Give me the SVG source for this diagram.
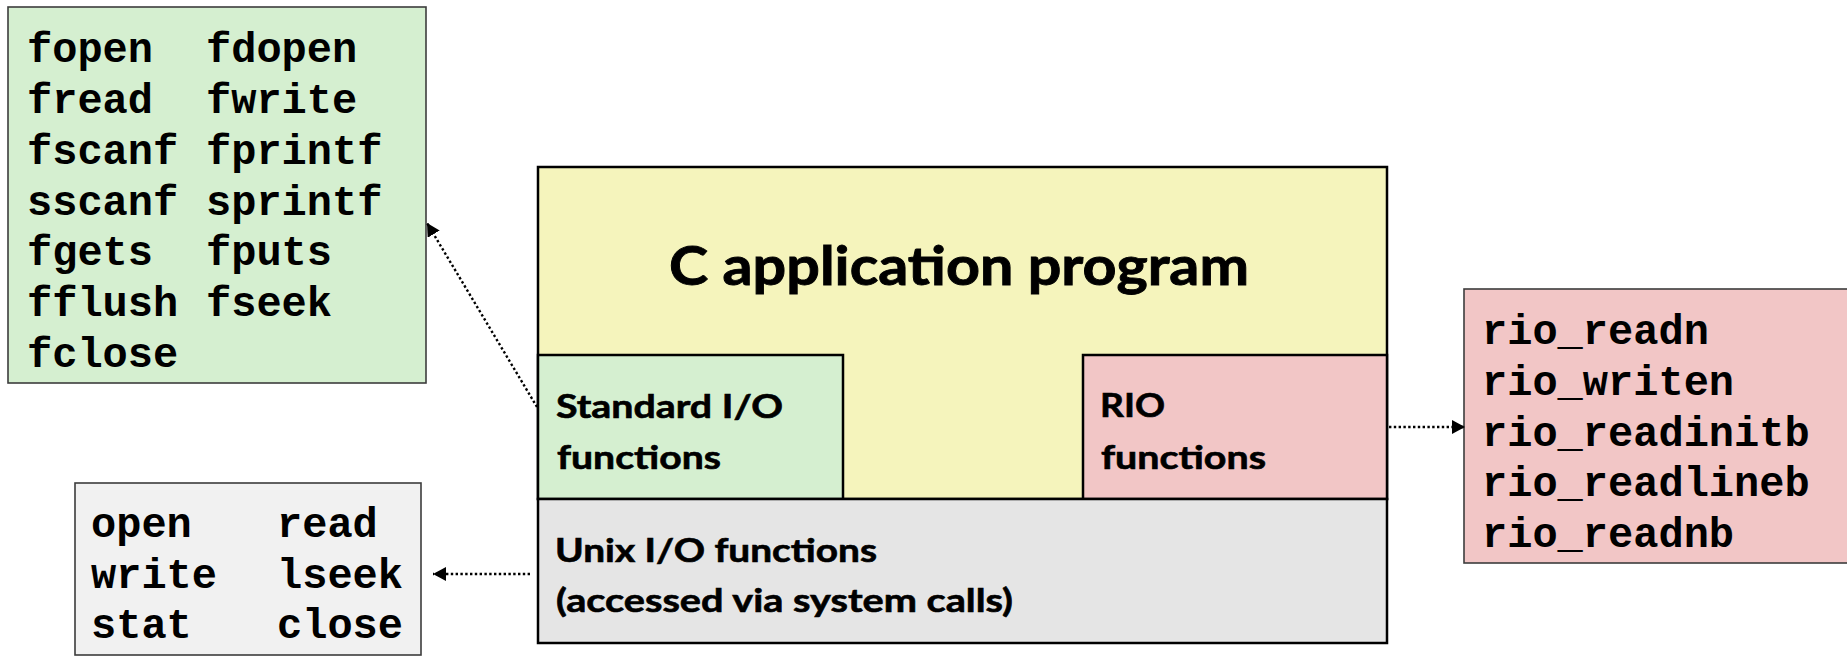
<svg xmlns="http://www.w3.org/2000/svg" width="1847" height="656" viewBox="0 0 1847 656">
  <style>
    .mono { font-family: "Courier New", "Liberation Mono", monospace; font-weight: bold; font-size: 42px; fill: #000; }
    .sans { font-family: Lato, "Open Sans", "Liberation Sans", sans-serif; font-weight: bold; fill: #000; stroke: #000; stroke-width: 0.6; }
    .big { font-size: 53px; stroke-width: 0.9; }
    .mid { font-size: 32px; }
    .outer { stroke: #3c3c3c; stroke-width: 1.6; }
    .inner { stroke: #000; stroke-width: 2.5; }
    .conn { fill: none; stroke: #000; stroke-width: 2.4; stroke-dasharray: 2.4 2.4; marker-end: url(#arrow); }
  </style>
  <defs>
    <marker id="arrow" markerUnits="userSpaceOnUse" markerWidth="14" markerHeight="14" refX="13" refY="7" orient="auto">
      <path d="M0,0 L13,7 L0,14 Z" fill="#000"/>
    </marker>
  </defs>
  <rect x="0" y="0" width="1847" height="656" fill="#fff"/>

  <g id="stdio-list">
    <rect class="outer" x="8" y="7" width="418" height="376" fill="#d5efd0"/>
    <text class="mono" x="27" y="62">fopen</text>
    <text class="mono" x="206" y="62">fdopen</text>
    <text class="mono" x="27" y="113">fread</text>
    <text class="mono" x="206" y="113">fwrite</text>
    <text class="mono" x="27" y="164">fscanf</text>
    <text class="mono" x="206" y="164">fprintf</text>
    <text class="mono" x="27" y="215">sscanf</text>
    <text class="mono" x="206" y="215">sprintf</text>
    <text class="mono" x="27" y="265">fgets</text>
    <text class="mono" x="206" y="265">fputs</text>
    <text class="mono" x="27" y="316">fflush</text>
    <text class="mono" x="206" y="316">fseek</text>
    <text class="mono" x="27" y="367">fclose</text>
  </g>

  <g id="unix-list">
    <rect class="outer" x="75" y="483" width="346" height="172" fill="#f1f1f1"/>
    <text class="mono" x="91" y="537">open</text>
    <text class="mono" x="277" y="537">read</text>
    <text class="mono" x="91" y="588">write</text>
    <text class="mono" x="277" y="588">lseek</text>
    <text class="mono" x="91" y="638">stat</text>
    <text class="mono" x="277" y="638">close</text>
  </g>

  <g id="rio-list">
    <rect class="outer" x="1464" y="289" width="390" height="274" fill="#f2c6c6"/>
    <text class="mono" x="1482" y="344">rio_readn</text>
    <text class="mono" x="1482" y="395">rio_writen</text>
    <text class="mono" x="1482" y="446">rio_readinitb</text>
    <text class="mono" x="1482" y="496">rio_readlineb</text>
    <text class="mono" x="1482" y="547">rio_readnb</text>
  </g>

  <g id="c-app">
    <rect class="inner" x="538" y="167" width="849" height="332" fill="#f5f4bc"/>
    <text class="sans big" x="669" y="285" textLength="580" lengthAdjust="spacingAndGlyphs">C application program</text>
  </g>

  <g id="stdio">
    <rect class="inner" x="538" y="355" width="305" height="144" fill="#d5efd0"/>
    <text class="sans mid" x="556" y="418" textLength="227" lengthAdjust="spacingAndGlyphs">Standard I/O</text>
    <text class="sans mid" x="557" y="469" textLength="164" lengthAdjust="spacingAndGlyphs">functions</text>
  </g>

  <g id="rio">
    <rect class="inner" x="1083" y="355" width="304" height="144" fill="#f2c6c6"/>
    <text class="sans mid" x="1100" y="417" textLength="65" lengthAdjust="spacingAndGlyphs">RIO</text>
    <text class="sans mid" x="1101" y="469" textLength="165" lengthAdjust="spacingAndGlyphs">functions</text>
  </g>

  <g id="unix">
    <rect class="inner" x="538" y="499" width="849" height="144" fill="#e5e5e5"/>
    <text class="sans mid" x="555" y="562" textLength="322" lengthAdjust="spacingAndGlyphs">Unix I/O functions</text>
    <text class="sans mid" x="556" y="612" textLength="457" lengthAdjust="spacingAndGlyphs">(accessed via system calls)</text>
  </g>

  <g id="connectors">
    <line class="conn" x1="537" y1="407" x2="427" y2="223"/>
    <line class="conn" x1="1389" y1="427" x2="1465" y2="427"/>
    <line class="conn" x1="530" y1="574" x2="433" y2="574"/>
  </g>
</svg>
